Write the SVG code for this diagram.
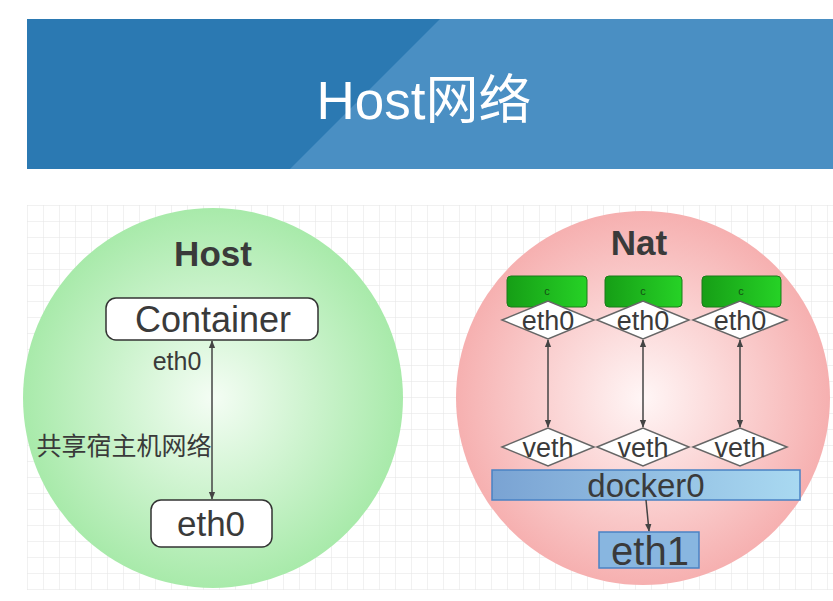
<svg xmlns="http://www.w3.org/2000/svg" width="833" height="601" viewBox="0 0 833 601">
<defs>
<pattern id="grid" width="16" height="16" patternUnits="userSpaceOnUse" x="27" y="205">
<path d="M16 0H0V16" fill="none" stroke="#e4e4e4" stroke-width="1"/>
</pattern>
<radialGradient id="gGreen" cx="0.5" cy="0.5" r="0.5">
<stop offset="0" stop-color="#f4fdf4"/>
<stop offset="1" stop-color="#a8eaaa"/>
</radialGradient>
<radialGradient id="gPink" cx="0.5" cy="0.5" r="0.5">
<stop offset="0" stop-color="#fff6f6"/>
<stop offset="1" stop-color="#f6b0b0"/>
</radialGradient>
<linearGradient id="gBlue" x1="0" y1="0" x2="1" y2="0">
<stop offset="0" stop-color="#7aa3d3"/>
<stop offset="1" stop-color="#a9d9f1"/>
</linearGradient>
<linearGradient id="gC" x1="0" y1="0" x2="1" y2="0">
<stop offset="0" stop-color="#169e16"/>
<stop offset="1" stop-color="#26d226"/>
</linearGradient>
<marker id="arr" viewBox="0 0 10 10" refX="9" refY="5" markerWidth="8" markerHeight="8" orient="auto-start-reverse" markerUnits="userSpaceOnUse">
<path d="M0 1L10 5L0 9Z" fill="#444"/>
</marker>
<style>
.t{font-family:"Liberation Sans","Noto Sans CJK SC",sans-serif;fill:#3a3a3a;text-anchor:middle}
.box{fill:#fff;stroke:#333;stroke-width:1.5}
.dia{fill:#fff;stroke:#666;stroke-width:1.5}
.cn{fill:url(#gC);stroke:#1a7a1a;stroke-width:1}
.ln{stroke:#444;stroke-width:1.5;fill:none;marker-start:url(#arr);marker-end:url(#arr)}
.d{font-size:27px}
</style>
</defs>
<rect width="833" height="601" fill="#fff"/>
<g id="banner">
<rect x="27" y="19" width="806" height="150" fill="#2b79b2"/>
<polygon points="440,19 833,19 833,169 290,169" fill="#4a8fc3"/>
<text x="424" y="119" class="t" style="fill:#fff;font-size:53px">Host网络</text>
</g>
<rect x="27" y="205" width="806" height="385" fill="url(#grid)"/>
<g id="host">
<circle cx="213" cy="398" r="190" fill="url(#gGreen)"/>
<text x="213" y="266" class="t" style="font-size:35px;font-weight:bold">Host</text>
</g>
<g id="container">
<rect x="106" y="298" width="212" height="42" rx="10" class="box"/>
<text x="213" y="332" class="t" style="font-size:36px">Container</text>
</g>
<g id="host-eth0">
<rect x="151" y="500" width="121" height="47" rx="10" class="box"/>
<text x="211" y="536" class="t" style="font-size:35px">eth0</text>
</g>
<g id="nat">
<circle cx="643" cy="398" r="187" fill="url(#gPink)"/>
<text x="639" y="255" class="t" style="font-size:35px;font-weight:bold">Nat</text>
</g>
<g id="c1"><rect x="507" y="276" width="80" height="31" rx="4" class="cn"/><text x="547" y="295" class="t" style="font-size:11px;fill:#145214">c</text></g>
<g id="c2"><rect x="605" y="276" width="77" height="31" rx="4" class="cn"/><text x="643" y="295" class="t" style="font-size:11px;fill:#145214">c</text></g>
<g id="c3"><rect x="702" y="276" width="79" height="31" rx="4" class="cn"/><text x="741" y="295" class="t" style="font-size:11px;fill:#145214">c</text></g>
<g id="eth0-1"><polygon points="502,320 548,301 594,320 548,339" class="dia"/><text x="548" y="330" class="t d">eth0</text></g>
<g id="eth0-2"><polygon points="597,320 643,301 689,320 643,339" class="dia"/><text x="643" y="330" class="t d">eth0</text></g>
<g id="eth0-3"><polygon points="693,320 740,301 787,320 740,339" class="dia"/><text x="740" y="330" class="t d">eth0</text></g>
<g id="veth-1"><polygon points="502,447 548,428 594,447 548,466" class="dia"/><text x="548" y="457" class="t d">veth</text></g>
<g id="veth-2"><polygon points="597,447 643,428 689,447 643,466" class="dia"/><text x="643" y="457" class="t d">veth</text></g>
<g id="veth-3"><polygon points="693,447 740,428 787,447 740,466" class="dia"/><text x="740" y="457" class="t d">veth</text></g>
<g id="docker0">
<rect x="492" y="470" width="308" height="30" fill="url(#gBlue)" stroke="#4a82c4" stroke-width="1.5"/>
<text x="646" y="497" class="t" style="font-size:33px">docker0</text>
</g>
<g id="eth1">
<rect x="599" y="532" width="100" height="36" fill="#88b6e0" stroke="#4a82c4" stroke-width="1.5"/>
<text x="650" y="565" class="t" style="font-size:40px">eth1</text>
</g>
<g id="connectors">
<line x1="212" y1="341" x2="212" y2="499" class="ln"/>
<line x1="548" y1="340" x2="548" y2="427" class="ln"/>
<line x1="643" y1="340" x2="643" y2="427" class="ln"/>
<line x1="740" y1="340" x2="740" y2="427" class="ln"/>
<line x1="646" y1="500" x2="649" y2="531" stroke="#444" stroke-width="1.5" marker-end="url(#arr)"/>
<text x="177" y="370" class="t" style="font-size:25px">eth0</text>
<text x="124" y="455" class="t" style="font-size:25px">共享宿主机网络</text>
</g>
</svg>
